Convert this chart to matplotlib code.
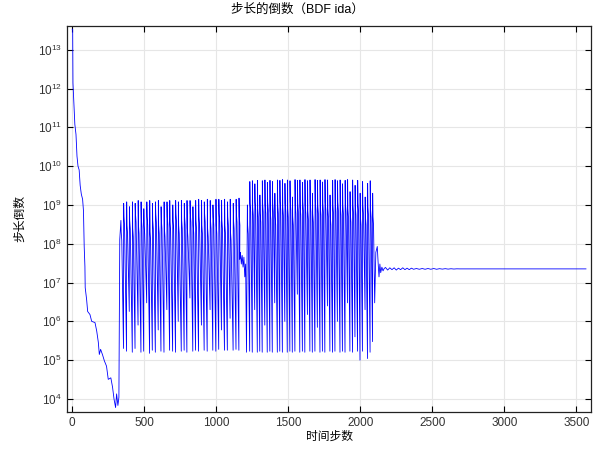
import numpy as np
import matplotlib
matplotlib.use('Agg')
import matplotlib.pyplot as plt
from matplotlib.ticker import NullLocator

plt.rcParams['font.family'] = ['Liberation Sans', 'Noto Sans CJK SC']
plt.rcParams['mathtext.fontset'] = 'custom'
plt.rcParams['mathtext.rm'] = 'Liberation Sans'

title = '步长的倒数（BDF ida）'
xlabel = '时间步数'
ylabel = '步长倒数'

# initial decline
head_steps = [0, 3, 5, 12, 18, 26, 33, 40, 48, 55, 63, 72, 78, 83, 88, 90, 100,
              107, 123, 135, 158, 170, 181, 188, 197, 211, 223, 238, 250, 268,
              280, 290, 301, 308, 317, 324, 330]
head_vals = [3.4e13, 3.3e13, 1.4e12, 3.5e11, 1.2e11, 6.6e10, 1.8e10, 1.0e10,
             8.0e9, 3.2e9, 1.9e9, 1.4e9, 7.0e8, 8.5e7, 2.6e7, 7.4e6, 3.6e6,
             1.8e6, 1.5e6, 1.0e6, 9.3e5, 5.6e5, 2.9e5, 1.4e5, 1.9e5, 1.35e5,
             9.6e4, 7.0e4, 3.2e4, 3.5e4, 2.0e4, 1.0e4, 6.0e3, 1.35e4, 6.8e3,
             1.1e4, 1.3e8]

# first oscillating stretch: peak step, peak, shoulder, following trough
p1_steps = [338, 357, 378, 397, 418, 437, 458, 478, 497, 518, 538, 557, 578, 598,
            617, 638, 658, 677, 698, 718, 737, 758, 778, 797, 818, 838, 857, 878,
            898, 917, 938, 958, 977, 998, 1018, 1037, 1058, 1078, 1097, 1118,
            1138, 1158]
p1_peak = [4.0e8, 1.1e9, 1.2e9, 9.0e8, 1.2e9, 1.1e9, 1.3e9, 1.2e9, 8.0e8, 1.2e9,
           1.3e9, 1.1e9, 1.2e9, 1.3e9, 9.0e8, 1.2e9, 1.2e9, 1.3e9, 1.0e9, 1.3e9,
           1.2e9, 1.3e9, 1.1e9, 1.3e9, 1.3e9, 9.0e8, 1.3e9, 1.4e9, 1.3e9, 1.2e9,
           1.4e9, 1.3e9, 1.0e9, 1.4e9, 1.4e9, 1.3e9, 1.4e9, 1.2e9, 1.4e9, 1.1e9,
           1.4e9, 1.5e9]
p1_mid = [2.0e8, 5.0e8, 3.0e8, 4.0e8, 2.5e8, 6.0e8, 3.0e8, 4.5e8, 3.0e8, 5.0e8,
          2.0e8, 4.0e8, 6.0e8, 3.0e8, 4.0e8, 2.5e8, 5.0e8, 3.5e8, 4.0e8, 6.0e8,
          3.0e8, 4.0e8, 5.0e8, 2.5e8, 6.0e8, 3.0e8, 4.0e8, 5.0e8, 3.0e8, 6.0e8,
          2.5e8, 4.0e8, 5.0e8, 3.0e8, 6.0e8, 4.0e8, 3.0e8, 5.0e8, 2.0e8, 4.0e8,
          6.0e8, 5.0e8]
p1_low = [2.0e5, 1.7e5, 1.8e6, 1.6e5, 2.0e5, 8.0e5, 1.6e5, 1.7e5, 3.0e6, 1.5e5,
          1.8e5, 1.6e5, 6.0e5, 1.7e5, 1.6e5, 2.0e6, 1.8e5, 1.7e5, 1.6e5, 1.0e6,
          1.7e5, 1.8e5, 1.6e5, 4.0e6, 1.7e5, 1.8e5, 1.7e5, 8.0e5, 1.8e5, 1.7e5,
          2.0e6, 1.8e5, 1.7e5, 1.9e5, 6.0e5, 1.8e5, 1.8e5, 1.2e6, 1.8e5, 1.9e5,
          1.8e5, 4.0e7]

# short plateau between the two stretches
blip_steps = [1168, 1174, 1180, 1186, 1192, 1198, 1204, 1210]
blip_vals = [6.0e7, 3.0e7, 5.0e7, 2.5e7, 4.5e7, 1.4e7, 3.0e7, 1.6e5]

# second oscillating stretch
p2_steps = [1216, 1233, 1251, 1268, 1286, 1303, 1320, 1338, 1355, 1373, 1390,
            1407, 1425, 1442, 1460, 1477, 1494, 1512, 1529, 1547, 1564, 1581,
            1599, 1616, 1634, 1651, 1668, 1686, 1703, 1721, 1738, 1755, 1773,
            1790, 1808, 1825, 1842, 1860, 1877, 1895, 1912, 1929, 1947, 1964,
            1982, 1999, 2016, 2034, 2051, 2069, 2086]
p2_peak = [1.0e9, 4.0e9, 4.2e9, 3.5e9, 4.3e9, 1.8e9, 4.2e9, 4.4e9, 3.8e9, 4.3e9,
           4.0e9, 2.0e9, 4.4e9, 4.3e9, 4.5e9, 3.6e9, 4.4e9, 4.2e9, 1.6e9, 4.5e9,
           4.3e9, 4.4e9, 3.8e9, 4.5e9, 4.2e9, 4.4e9, 2.0e9, 4.5e9, 4.3e9, 4.4e9,
           3.9e9, 4.5e9, 4.4e9, 1.8e9, 4.3e9, 4.5e9, 4.2e9, 4.4e9, 3.5e9, 4.3e9,
           4.5e9, 2.2e9, 4.4e9, 3.2e9, 4.3e9, 2.0e9, 4.0e9, 1.6e9, 3.6e9, 4.2e9,
           2.0e9]
p2_mid = [3.0e8, 1.1e9, 9.0e8, 1.2e9, 8.0e8, 6.0e8, 1.1e9, 1.0e9, 1.2e9, 7.0e8,
          1.1e9, 5.0e8, 1.0e9, 1.2e9, 9.0e8, 1.1e9, 8.0e8, 1.2e9, 5.0e8, 1.0e9,
          1.1e9, 9.0e8, 1.2e9, 1.0e9, 7.0e8, 1.1e9, 6.0e8, 1.2e9, 1.0e9, 9.0e8,
          1.1e9, 1.2e9, 8.0e8, 5.0e8, 1.0e9, 1.1e9, 1.2e9, 9.0e8, 1.0e9, 1.1e9,
          8.0e8, 6.0e8, 1.0e9, 9.0e8, 1.1e9, 5.0e8, 1.0e9, 5.0e8, 9.0e8, 8.0e8,
          5.0e8]
p2_low = [1.7e5, 1.6e5, 2.0e6, 1.6e5, 1.7e5, 1.6e5, 8.0e5, 1.6e5, 1.7e5, 1.6e5,
          3.0e6, 1.6e5, 1.7e5, 1.6e5, 1.0e6, 1.6e5, 1.7e5, 1.6e5, 1.7e5, 5.0e6,
          1.6e5, 1.7e5, 1.6e5, 1.5e6, 1.7e5, 1.6e5, 1.7e5, 7.0e5, 1.6e5, 1.7e5,
          1.6e5, 2.5e6, 1.7e5, 1.6e5, 1.7e5, 1.0e6, 1.6e5, 1.7e5, 1.6e5, 3.0e6,
          1.7e5, 1.6e5, 4.0e5, 1.7e5, 1.0e5, 1.7e5, 2.0e6, 1.1e5, 1.6e5, 3.0e5,
          3.0e6]

# settling and the flat tail
tail_steps = [2108, 2118, 2124, 2130, 2136, 2142, 2150, 2158, 2166, 2175, 2190,
              2205, 2220, 2235, 2250, 2265, 2280, 2295, 2310, 2325, 2340, 2355,
              2370, 2390, 2410, 2430, 2450, 2470, 2490, 2510, 2530, 2550, 2570,
              2590, 2610, 2630, 2650, 2670, 2690, 3567]
tail_vals = [6.0e7, 8.5e7, 3.2e7, 1.4e7, 3.0e7, 1.8e7, 2.5e7, 2.0e7, 2.3e7,
             2.45e7, 2.1e7, 2.4e7, 2.15e7, 2.4e7, 2.1e7, 2.35e7, 2.15e7, 2.4e7,
             2.15e7, 2.35e7, 2.15e7, 2.35e7, 2.2e7, 2.3e7, 2.2e7, 2.3e7, 2.2e7,
             2.3e7, 2.2e7, 2.3e7, 2.2e7, 2.28e7, 2.22e7, 2.28e7, 2.22e7, 2.27e7,
             2.23e7, 2.26e7, 2.25e7, 2.25e7]


def cycles(steps, peak, mid, low, last_trough):
    # jump to the peak, short hold near the shoulder, steep fall to the trough
    xs, ys = [], []
    for i in range(len(steps)):
        nxt = steps[i + 1] if i + 1 < len(steps) else last_trough + 1
        xs += [steps[i], steps[i] + 2, steps[i] + 6, nxt - 1]
        ys += [peak[i], mid[i], mid[i] * 0.6, low[i]]
    return xs, ys


x1, y1 = cycles(p1_steps, p1_peak, p1_mid, p1_low, 1163)
x2, y2 = cycles(p2_steps, p2_peak, p2_mid, p2_low, 2100)
xs = head_steps + x1 + blip_steps + x2 + tail_steps
ys = head_vals + y1 + blip_vals + y2 + tail_vals

fig = plt.figure(figsize=(6, 4.5), dpi=100)
ax = fig.add_axes([0.112, 0.085, 0.873, 0.857])
ax.plot(xs, ys, color='blue', lw=0.6)

ax.set_yscale('log')
ax.set_xlim(-35, 3602)
ax.set_ylim(10 ** 3.67, 10 ** 13.61)
ax.set_xticks(np.arange(0, 3501, 500))
ax.set_yticks([10.0 ** k for k in range(4, 14)])
ax.yaxis.set_minor_locator(NullLocator())
ax.grid(True, color='#e6e6e6', lw=0.8)
ax.set_axisbelow(True)
ax.tick_params(direction='in', top=True, right=True, length=4, width=0.8,
               labelsize=8.5, labelcolor='#333333', pad=4)
for s in ax.spines.values():
    s.set_color('#222222')
    s.set_linewidth(0.9)

ax.set_xlabel(xlabel, fontsize=8.5, labelpad=1)
ax.set_ylabel(ylabel, fontsize=8.5, labelpad=8)
fig.text(0.495, 0.978, title, ha='center', va='center', fontsize=9)

fig.savefig('out.png', dpi=100)
